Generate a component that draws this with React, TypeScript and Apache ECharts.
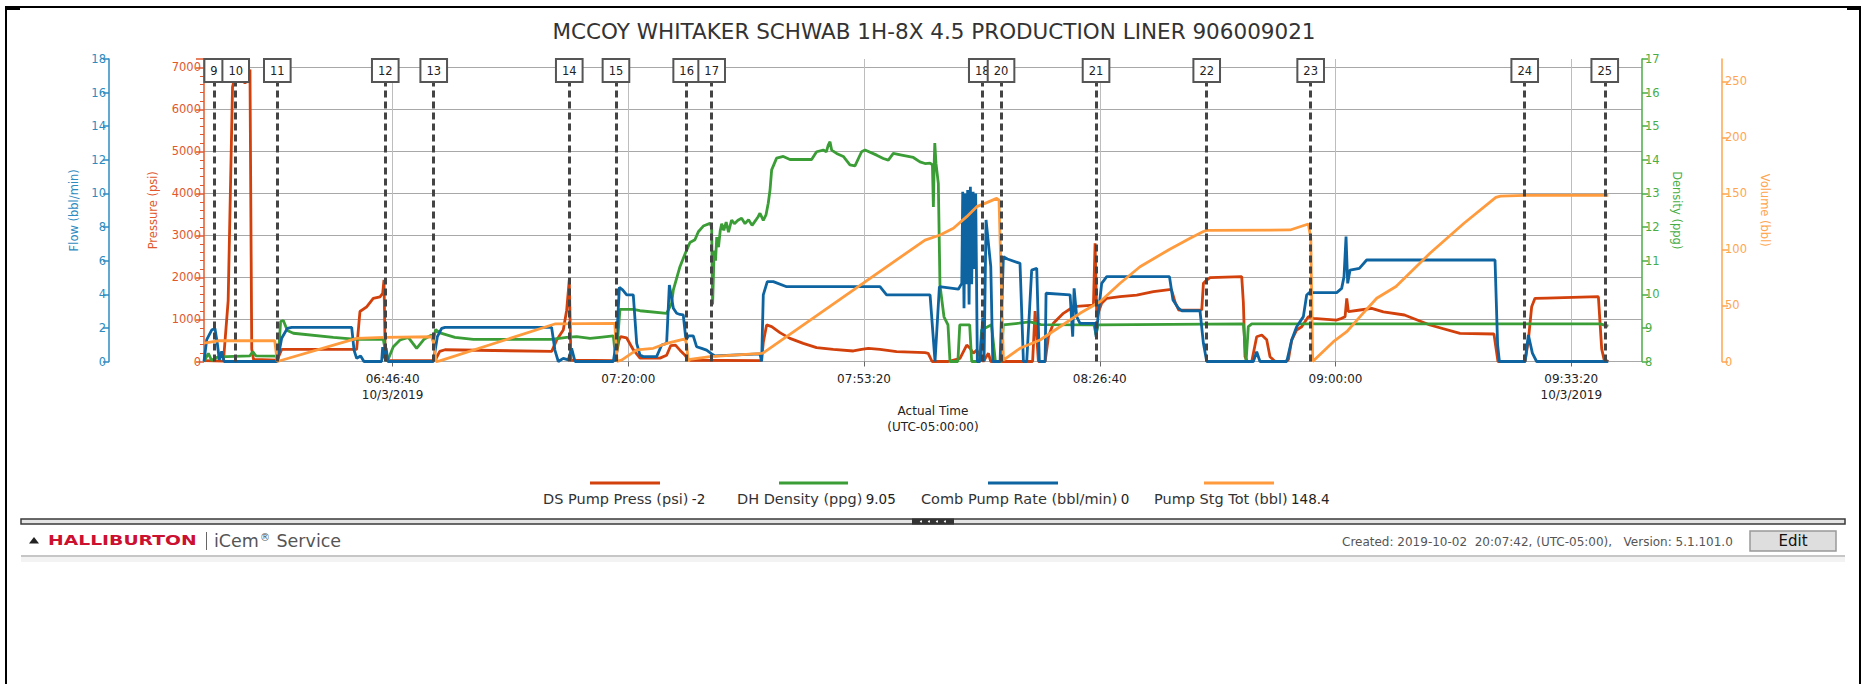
import React, { useEffect, useRef } from 'react';
import * as echarts from 'echarts';

// ---------- texts ----------
const TITLE = 'MCCOY WHITAKER SCHWAB 1H-8X 4.5 PRODUCTION LINER 906009021';
const JOB_DATE = '10/3/2019';
const X_NAME = 'Actual Time\n(UTC-05:00:00)';
const CREATED_TEXT = 'Created: 2019-10-02  20:07:42, (UTC-05:00),   Version: 5.1.101.0';

// ---------- time axis (seconds since midnight, UTC-05:00) ----------
const TIME_MIN = 22800; // 06:20:00
const TIME_MAX = 35000; // 09:43:20
const TIME_TICKS = [24400, 26400, 28400, 30400, 32400, 34400];

// ---------- event markers ----------
const eventTimes = [22885, 23069, 23422, 24338, 24749, 25899, 26295, 26895, 27107, 29403, 29562, 30368, 31307, 32189, 34005, 34684];
const eventLabels = ['9', '10', '11', '12', '13', '14', '15', '16', '17', '18', '20', '21', '22', '23', '24', '25'];

// ---------- series ----------
const dsPumpPress: [number, number][] = [
  [22800, 20], [22965, 10], [23005, 1450], [23042, 6530], [23060, 6750], [23130, 6700], [23148, 6620], [23165, 6700],
  [23190, 6950], [23205, 300], [23220, 50], [23420, 30], [23460, 290], [24095, 290], [24123, 1190], [24180, 1300],
  [24236, 1500], [24293, 1540], [24316, 1620], [24327, 1940], [24338, 50], [24350, 20], [24760, 20], [24800, 240],
  [24845, 280], [25750, 240], [25792, 510], [25848, 750], [25877, 1220], [25899, 1940], [25913, 30], [26290, 20],
  [26320, 500], [26335, 590], [26386, 560], [26442, 280], [26499, 80], [26668, 80], [26725, 150], [26760, 380],
  [26800, 390], [26838, 270], [26881, 150], [26910, 30], [27520, 20], [27531, 40], [27545, 450], [27573, 870],
  [27616, 830], [27686, 687], [27771, 551], [27884, 432], [27997, 330], [28139, 290], [28309, 250], [28379, 290],
  [28436, 313], [28535, 290], [28676, 234], [28917, 210], [28944, 195], [28977, 0], [29115, 0], [29214, 75],
  [29271, 392], [29299, 313], [29327, 194], [29356, 274], [29384, 115], [29412, 0], [29455, 194], [29475, 0],
  [29830, 0], [29851, 1200], [29879, 0], [29936, 0], [29964, 590], [30006, 908], [30091, 1146], [30176, 1304],
  [30346, 1344], [30360, 2811], [30374, 1067], [30416, 1384], [30459, 1503], [30572, 1542], [30713, 1582], [30855, 1661],
  [31007, 1717], [31040, 1400], [31070, 1225], [31265, 1230], [31279, 1860], [31307, 1939], [31335, 1995], [31604, 2019],
  [31618, 1400], [31632, 115], [31652, 0], [31689, 0], [31731, 590], [31774, 630], [31816, 520], [31844, 115],
  [31887, 0], [31972, 0], [32000, 40], [32028, 510], [32070, 750], [32113, 828], [32169, 1067], [32212, 1027],
  [32410, 987], [32452, 1027], [32481, 1067], [32495, 1503], [32509, 1186], [32608, 1226], [32707, 1265], [32806, 1180],
  [32985, 1107], [33201, 869], [33456, 671], [33744, 655], [33778, 0], [34008, 0], [34036, 511], [34064, 1304],
  [34092, 1503], [34191, 1510], [34630, 1542], [34658, 300], [34678, 50], [34714, -2],
];

const dhDensity: [number, number][] = [
  [22800, 8.0], [22837, 8.24], [22865, 8.03], [22921, 8.14], [23190, 8.17], [23213, 8.29], [23241, 8.17], [23411, 8.16],
  [23428, 8.0], [23450, 9.19], [23473, 9.22], [23507, 8.92], [23558, 8.84], [23897, 8.72], [24095, 8.66], [24321, 8.66],
  [24355, 8.0], [24406, 8.44], [24463, 8.64], [24533, 8.72], [24604, 8.39], [24666, 8.66], [24731, 8.79], [24745, 8.6],
  [24765, 8.95], [24802, 8.85], [24929, 8.72], [25085, 8.66], [25749, 8.66], [25877, 8.72], [25961, 8.74], [26075, 8.69],
  [26159, 8.72], [26273, 8.76], [26295, 8.0], [26329, 9.55], [26442, 9.55], [26499, 9.51], [26725, 9.43], [26767, 9.73],
  [26782, 10.13], [26838, 10.82], [26881, 11.2], [26923, 11.54], [26965, 11.62], [26994, 11.86], [27036, 12.03], [27093, 12.11],
  [27107, 12.0], [27115, 9.7], [27128, 11.3], [27140, 11.0], [27150, 11.7], [27165, 11.4], [27180, 11.9], [27192, 12.1],
  [27210, 11.9], [27230, 12.15], [27250, 11.85], [27276, 12.21], [27300, 12.1], [27330, 12.2], [27361, 12.26], [27390, 12.1],
  [27420, 12.22], [27450, 12.05], [27480, 12.2], [27500, 12.3], [27517, 12.41], [27545, 12.2], [27568, 12.36], [27587, 12.71],
  [27602, 13.1], [27616, 13.7], [27658, 14.05], [27715, 14.1], [27771, 14.01], [27955, 14.01], [27997, 14.24], [28054, 14.29],
  [28080, 14.24], [28096, 14.44], [28111, 14.54], [28125, 14.29], [28167, 14.19], [28224, 14.1], [28280, 13.85], [28323, 13.82],
  [28379, 14.24], [28408, 14.29], [28507, 14.14], [28563, 14.04], [28606, 13.99], [28648, 14.19], [28719, 14.14], [28818, 14.07],
  [28874, 13.94], [28917, 13.89], [28960, 13.9], [28980, 13.85], [28988, 12.6], [28995, 13.9], [29000, 14.5], [29010, 13.9],
  [29030, 13.3], [29044, 10.27], [29078, 9.33], [29112, 9.09], [29129, 8.0], [29196, 8.0], [29212, 9.09], [29296, 9.09],
  [29313, 8.0], [29380, 8.0], [29397, 8.94], [29481, 9.09], [29514, 8.0], [29564, 8.0], [29581, 9.09], [29714, 9.14],
  [29808, 9.18], [29900, 9.1], [30351, 9.09], [30368, 8.8], [30385, 9.09], [31618, 9.12], [31632, 8.5], [31641, 8.0],
  [31660, 9.04], [31689, 9.12], [34644, 9.12], [34714, 9.05],
];

const combPumpRate: [number, number][] = [
  [22800, 0], [22823, 1.3], [22865, 1.87], [22893, 1.97], [22913, 1.08], [22930, 0.1], [22950, 0.6], [22970, 0],
  [23422, 0], [23459, 1.38], [23507, 1.97], [23544, 2.03], [24053, 2.03], [24073, 0.68], [24095, 0.19], [24129, 0.33],
  [24157, 0], [24307, 0], [24316, 0.85], [24333, 0.2], [24345, 0.8], [24360, 0], [24746, 0], [24780, 1.48],
  [24816, 1.97], [24845, 2.03], [25749, 2.03], [25777, 0.68], [25806, 0], [25848, 0.19], [25891, 0.1], [25919, 0.78],
  [25948, 0], [26273, 0], [26301, 1.28], [26324, 4.41], [26352, 4.26], [26386, 3.96], [26442, 3.96], [26471, 1.08],
  [26499, 0.38], [26527, 0.29], [26640, 0.29], [26683, 0.98], [26725, 1.08], [26748, 4.55], [26782, 3.17], [26810, 2.87],
  [26838, 2.8], [26866, 2.77], [26889, 1.28], [26909, 1.52], [26951, 1.52], [26979, 0.88], [27022, 0.78], [27064, 0.68],
  [27107, 0.45], [27135, 0.33], [27517, 0.45], [27531, 0], [27545, 3.96], [27579, 4.75], [27630, 4.75], [27743, 4.45],
  [28535, 4.45], [28591, 3.96], [28960, 3.96], [29002, 0], [29039, 4.45], [29200, 4.3], [29229, 4.65], [29237, 10.1],
  [29248, 3.17], [29257, 10.0], [29268, 4.6], [29279, 10.2], [29291, 3.4], [29302, 10.4], [29313, 4.6], [29325, 10.1],
  [29336, 5.5], [29347, 10.0], [29361, 0], [29384, 0], [29407, 2.6], [29418, 0], [29435, 8.42], [29455, 7.03],
  [29475, 5.64], [29492, 0], [29554, 0], [29582, 6.24], [29616, 6.1], [29723, 5.84], [29752, 0], [29780, 0],
  [29822, 5.44], [29865, 5.54], [29887, 0], [29936, 0], [29944, 4.06], [30148, 3.96], [30170, 1.48], [30182, 4.35],
  [30204, 2.67], [30232, 2.27], [30360, 2.27], [30368, 1.48], [30388, 2.87], [30416, 4.65], [30459, 5.05], [30991, 5.05],
  [31021, 3.66], [31067, 3.17], [31095, 3.02], [31250, 3.02], [31279, 1.08], [31307, 0], [31703, 0], [31731, 0.58],
  [31759, 0], [31986, 0], [32028, 1.28], [32070, 2.07], [32127, 2.67], [32155, 3.96], [32178, 4.1], [32410, 4.1],
  [32452, 4.35], [32472, 5.05], [32489, 7.43], [32503, 4.65], [32523, 5.44], [32602, 5.54], [32664, 6.04], [33753, 6.04],
  [33775, 1.0], [33790, 0], [34008, 0], [34036, 1.58], [34070, 0.5], [34106, 0], [34714, 0],
];

const pumpStgTot: [number, number][] = [
  [22800, 16.3], [22920, 18.5], [23400, 18.5], [23422, 0], [24095, 20.7], [24330, 21.6], [24740, 22.1], [24770, 0],
  [24800, 0.5], [25749, 32.6], [25777, 33.5], [26285, 34.1], [26305, 0], [26343, 1.3], [26471, 10.3], [26612, 11.8],
  [26725, 16.2], [26881, 20.2], [26895, 15], [26909, 0], [26923, 1.9], [27093, 4.3], [27531, 7.3], [27545, 7.7],
  [28917, 108.4], [29045, 112.9], [29158, 118.9], [29271, 129.3], [29356, 138.2], [29441, 141.8], [29525, 145.6], [29545, 144.1],
  [29582, 1.3], [29723, 11.8], [29893, 19.2], [30062, 31], [30232, 43], [30402, 53.4], [30572, 69.8], [30741, 84.6],
  [30990, 100], [31166, 110], [31279, 116], [31307, 117], [32014, 117.4], [32169, 122.7], [32190, 110], [32206, 0],
  [32382, 17.7], [32495, 26.6], [32608, 40], [32749, 56.4], [32913, 67], [33201, 96.6], [33490, 123.4], [33760, 146.5],
  [33800, 147.6], [34008, 148.2], [34714, 148.4],
];

// ---------- styles ----------
const FONT = '"DejaVu Sans", Verdana, sans-serif';
const RED = '#d2400c';
const RED_AX = '#e2582c';
const GREEN = '#3a9d36';
const GREEN_AX = '#49ad45';
const BLUE = '#0d64a0';
const BLUE_AX = '#2e8bc0';
const ORANGE = '#ff9b3d';
const ORANGE_AX = '#ffa54e';
const MARKER_TOP = 6676; // psi level where marker boxes sit

const SERIES = [
  { name: 'DS Pump Press (psi)', data: dsPumpPress, color: RED, yAxisIndex: 0 },
  { name: 'DH Density (ppg)', data: dhDensity, color: GREEN, yAxisIndex: 2 },
  { name: 'Comb Pump Rate (bbl/min)', data: combPumpRate, color: BLUE, yAxisIndex: 1 },
  { name: 'Pump Stg Tot (bbl)', data: pumpStgTot, color: ORANGE, yAxisIndex: 3 },
];
const LEGEND_LAYOUT = [
  { textX: 543, lineX: 590, lineW: 70 },
  { textX: 737, lineX: 779, lineW: 69 },
  { textX: 921, lineX: 988, lineW: 70 },
  { textX: 1154, lineX: 1204, lineW: 70 },
];

function hms(s: number): string {
  const h = Math.floor(s / 3600);
  const m = Math.floor((s % 3600) / 60);
  const sec = Math.round(s % 60);
  return [h, m, sec].map((v) => String(v).padStart(2, '0')).join(':');
}

function yAxisBase(color: string, showMax: boolean) {
  return {
    type: 'value',
    nameLocation: 'middle',
    nameTextStyle: { color, fontSize: 11.5, fontFamily: FONT },
    axisLine: { show: true, lineStyle: { color, width: 1.5 } },
    axisTick: { show: true, length: 6, lineStyle: { color, width: 1.5 } },
    axisLabel: {
      color, fontSize: 11.5, fontFamily: FONT, margin: 3, showMaxLabel: showMax,
      formatter: (v: number) => String(v),
    },
    splitLine: { show: false },
  };
}

function buildOption() {
  const legendGraphics: any[] = [];
  SERIES.forEach((s, i) => {
    const L = LEGEND_LAYOUT[i];
    const last = s.data[s.data.length - 1][1];
    legendGraphics.push({
      type: 'rect', silent: true,
      shape: { x: L.lineX, y: 481.5, width: L.lineW, height: 3 },
      style: { fill: s.color },
    });
    legendGraphics.push({
      type: 'text', silent: true, x: L.textX, y: 499,
      style: {
        text: `{n|${s.name}} {v|${last}}`,
        align: 'left', verticalAlign: 'middle', textAlign: 'left', textVerticalAlign: 'middle',
        rich: {
          n: { fontSize: 14.5, fontFamily: FONT, fill: '#333' },
          v: { fontSize: 13.5, fontFamily: FONT, fill: '#222' },
        },
      },
    });
  });

  const panelGraphics: any[] = [
    // outer frame
    { type: 'rect', silent: true, shape: { x: 6, y: 7, width: 1854, height: 700 }, style: { fill: 'none', stroke: '#000', lineWidth: 2 } },
    { type: 'rect', silent: true, shape: { x: 5, y: 6, width: 15, height: 4 }, style: { fill: '#000' } },
    { type: 'rect', silent: true, shape: { x: 1847, y: 6, width: 14, height: 4 }, style: { fill: '#000' } },
    // splitter bar
    { type: 'rect', silent: true, shape: { x: 21, y: 519, width: 1824, height: 5 }, style: { fill: '#e4e4e4', stroke: '#3a3a3a', lineWidth: 1.5 } },
    { type: 'rect', silent: true, shape: { x: 912, y: 518.5, width: 42, height: 6 }, style: { fill: '#333' } },
    ...[921, 929, 937, 945].map((cx) => ({ type: 'circle', silent: true, shape: { cx, cy: 521.5, r: 1 }, style: { fill: '#fff' } })),
    // footer
    { type: 'polygon', silent: true, shape: { points: [[29, 543.5], [34, 537], [39, 543.5]] }, style: { fill: '#222' } },
    {
      type: 'text', silent: true, x: 48, y: 540, scaleX: 1.34,
      style: { text: 'HALLIBURTON', fontSize: 14, fontWeight: 'bold', fontFamily: FONT, fill: '#cc1030', align: 'left', verticalAlign: 'middle', textAlign: 'left', textVerticalAlign: 'middle' },
    },
    { type: 'line', silent: true, shape: { x1: 206.5, y1: 532, x2: 206.5, y2: 550 }, style: { stroke: '#666', lineWidth: 1 } },
    {
      type: 'text', silent: true, x: 214, y: 541,
      style: {
        text: '{a|iCem}{r|®}{a| Service}',
        align: 'left', verticalAlign: 'middle', textAlign: 'left', textVerticalAlign: 'middle',
        rich: {
          a: { fontSize: 17.5, fontFamily: FONT, fill: '#555' },
          r: { fontSize: 10, fontFamily: FONT, fill: '#555', verticalAlign: 'top', padding: [0, 1, 8, 1] },
        },
      },
    },
    {
      type: 'text', silent: true, x: 1342, y: 542,
      style: { text: CREATED_TEXT, fontSize: 12, fontFamily: FONT, fill: '#555', align: 'left', verticalAlign: 'middle', textAlign: 'left', textVerticalAlign: 'middle' },
    },
    { type: 'rect', silent: true, shape: { x: 1750, y: 531, width: 86, height: 20 }, style: { fill: '#dedede', stroke: '#999', lineWidth: 1.5 } },
    {
      type: 'text', silent: true, x: 1793, y: 541,
      style: { text: 'Edit', fontSize: 15, fontFamily: FONT, fill: '#111', align: 'center', verticalAlign: 'middle', textAlign: 'center', textVerticalAlign: 'middle' },
    },
    { type: 'rect', silent: true, shape: { x: 21, y: 557, width: 1824, height: 5 }, style: { fill: '#f3f3f3' } },
    { type: 'line', silent: true, shape: { x1: 21, y1: 556, x2: 1845, y2: 556 }, style: { stroke: '#c6c6c6', lineWidth: 2 } },
  ];

  const lineSeries = SERIES.map((s) => ({
    name: s.name,
    type: 'line',
    yAxisIndex: s.yAxisIndex,
    data: s.data,
    showSymbol: false,
    symbol: 'none',
    silent: true,
    lineStyle: { color: s.color, width: 2.8 },
    itemStyle: { color: s.color },
    z: 3,
  }));

  const markerSeries = {
    name: 'events',
    type: 'line',
    yAxisIndex: 0,
    data: [],
    silent: true,
    z: 6,
    markLine: {
      silent: true,
      animation: false,
      symbol: ['none', 'none'],
      lineStyle: { color: '#444', width: 3, type: [7, 4] },
      label: {
        show: true,
        position: 'end',
        distance: 0,
        formatter: (p: any) => p.name,
        color: '#222',
        fontSize: 11.5,
        fontFamily: FONT,
        lineHeight: 13,
        backgroundColor: '#fff',
        borderColor: '#555',
        borderWidth: 2,
        padding: [4, 5],
      },
      emphasis: { disabled: true },
      data: eventTimes.map((t, i) => [
        { name: eventLabels[i], coord: [t, 0] },
        { coord: [t, MARKER_TOP] },
      ]),
    },
  };

  return {
    animation: false,
    backgroundColor: '#fff',
    title: {
      text: TITLE,
      left: 'center',
      top: 20,
      padding: 0,
      textStyle: { fontFamily: FONT, fontSize: 21.5, fontWeight: 'normal', color: '#333' },
    },
    grid: { left: 204, right: 226, top: 59, bottom: 322.5, containLabel: false },
    xAxis: {
      type: 'value',
      min: TIME_MIN,
      max: TIME_MAX,
      offset: 6,
      axisLine: { show: false },
      axisTick: { show: true, customValues: TIME_TICKS, length: 5, lineStyle: { color: '#666' } },
      axisLabel: {
        customValues: TIME_TICKS,
        formatter: (v: number) =>
          hms(v) + (v === TIME_TICKS[0] || v === TIME_TICKS[TIME_TICKS.length - 1] ? '\n' + JOB_DATE : ''),
        fontSize: 12,
        fontFamily: FONT,
        color: '#222',
        lineHeight: 16,
        margin: 3,
      },
      splitLine: { show: true, lineStyle: { color: '#bdbdbd', width: 1 } },
      name: X_NAME,
      nameLocation: 'middle',
      nameGap: 28,
      nameTextStyle: { fontSize: 12, fontFamily: FONT, lineHeight: 16, color: '#222', padding: [0, 0, 0, 20] },
    },
    yAxis: [
      {
        ...yAxisBase(RED_AX, false),
        name: 'Pressure (psi)',
        nameGap: 45,
        position: 'left',
        min: 0,
        max: 7200,
        interval: 1000,
        axisTick: { show: true, length: 8, lineStyle: { color: RED_AX, width: 1.5 } },
        minorTick: { show: true, splitNumber: 5, length: 4, lineStyle: { color: RED_AX, width: 1 } },
        splitLine: { show: true, showMaxLine: false, lineStyle: { color: '#a8a8a8', width: 1 } },
      },
      {
        ...yAxisBase(BLUE_AX, true),
        name: 'Flow (bbl/min)',
        nameGap: 29,
        position: 'left',
        offset: 95,
        min: 0,
        max: 18,
        interval: 2,
      },
      {
        ...yAxisBase(GREEN_AX, true),
        name: 'Density (ppg)',
        nameGap: 29,
        nameRotate: -90,
        position: 'right',
        min: 8,
        max: 17,
        interval: 1,
      },
      {
        ...yAxisBase(ORANGE_AX, false),
        name: 'Volume (bbl)',
        nameGap: 37,
        nameRotate: -90,
        position: 'right',
        offset: 80,
        min: 0,
        max: 270,
        interval: 50,
      },
    ],
    series: [...lineSeries, markerSeries],
    graphic: { elements: [...panelGraphics, ...legendGraphics] },
  };
}

export default function App() {
  const ref = useRef<HTMLDivElement>(null);
  useEffect(() => {
    if (!ref.current) return;
    const chart = echarts.init(ref.current, undefined, { renderer: 'svg' });
    chart.setOption(buildOption() as any);
    return () => chart.dispose();
  }, []);
  return (
    <div
      ref={ref}
      style={{ position: 'fixed', left: 0, top: 0, width: 1868, height: 684, background: '#fff' }}
    />
  );
}
